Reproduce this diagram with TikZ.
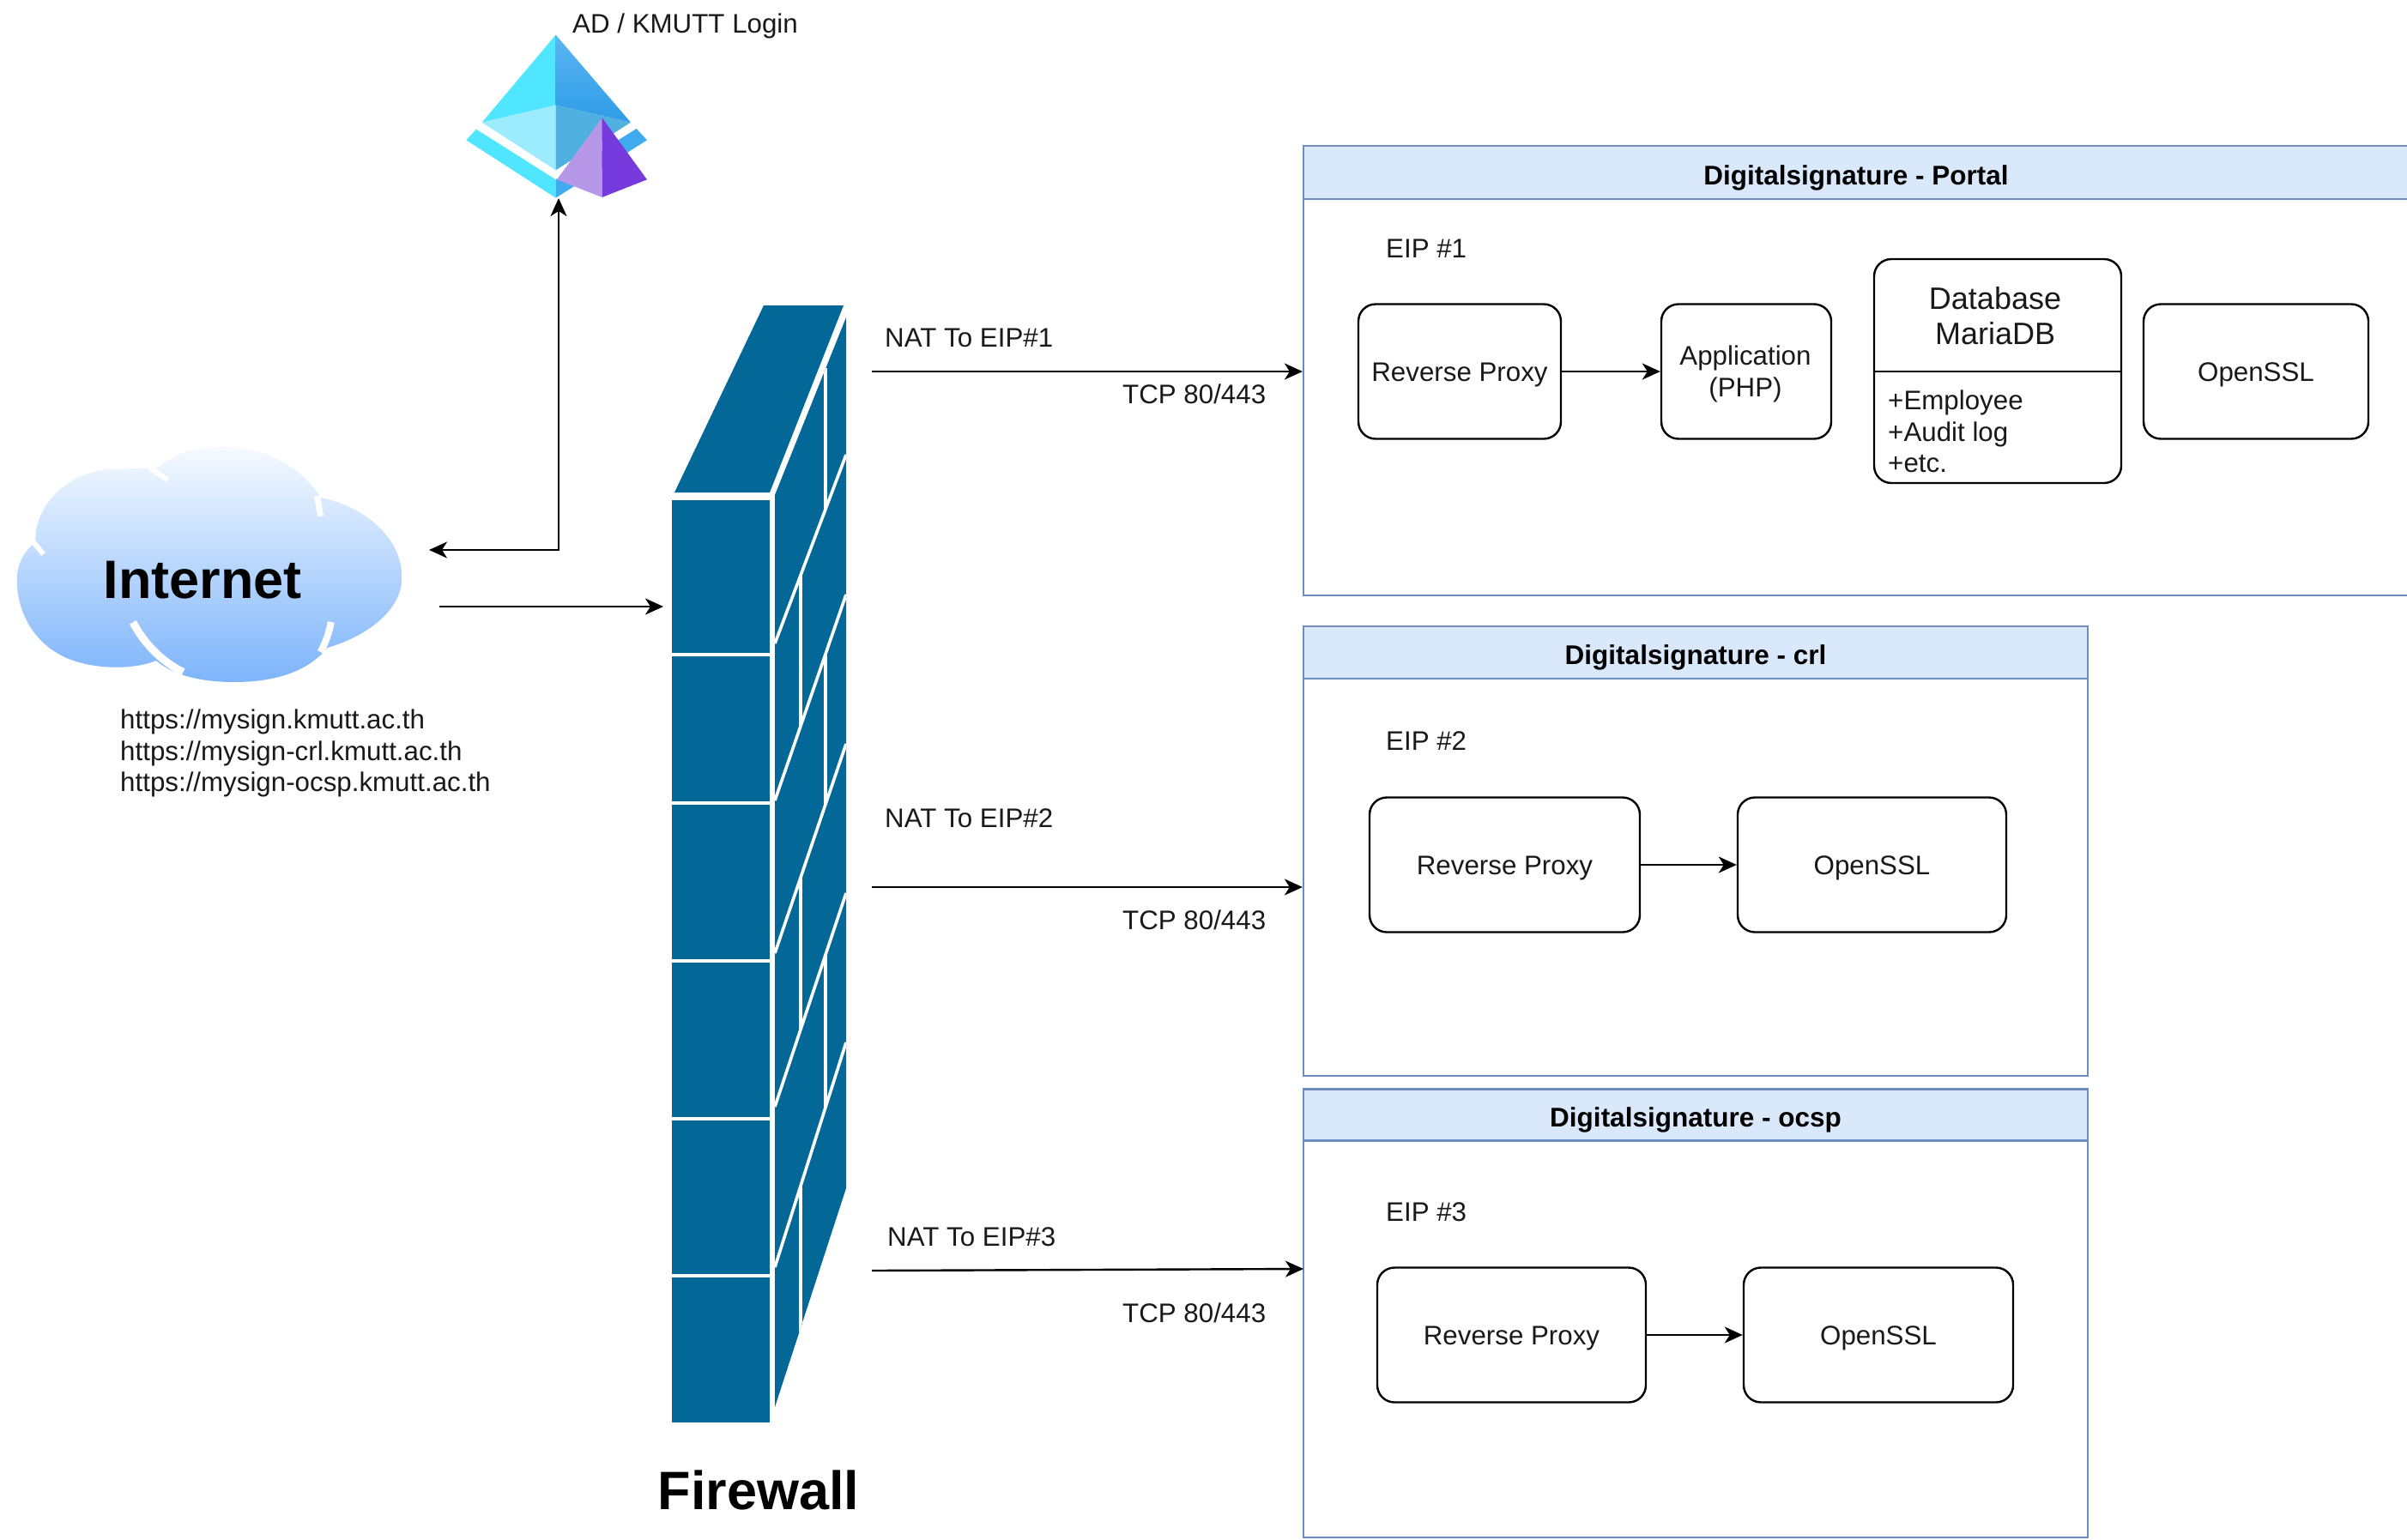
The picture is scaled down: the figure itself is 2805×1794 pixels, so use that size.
\documentclass[tikz,border=0pt]{standalone}
\usepackage{fontspec}
\setmainfont{Liberation Sans}
\usetikzlibrary{arrows.meta}
\definecolor{hdrfill}{HTML}{DAE8FC}
\definecolor{hdrline}{HTML}{6C8EBF}
\definecolor{fwblue}{HTML}{036897}
\definecolor{cloudtop}{HTML}{F7FBFF}
\definecolor{cloudbot}{HTML}{7DB4FB}
\tikzset{
  txt/.style={inner sep=0pt,font=\fontsize{31.3}{36.5}\selectfont,text=black!90},
  lbl/.style={txt,text height=23pt,text depth=7pt},
  boldhuge/.style={inner sep=0pt,font=\fontsize{63}{70}\selectfont\bfseries},
  titlebar/.style={draw=hdrline,fill=hdrfill,line width=2.2pt,inner sep=0pt,text height=35pt,text depth=7pt,font=\fontsize{31.5}{38}\selectfont\bfseries},
  panel/.style={draw=hdrline,fill=white,line width=2.2pt,inner sep=0pt},
  rbox/.style={draw=black,fill=white,line width=2.4pt,rounded corners=20pt,inner sep=0pt,font=\fontsize{31.3}{36.5}\selectfont,text=black!90,text height=29pt,text depth=7pt},
  conn/.style={draw=black,line width=2.4pt,-{Stealth[length=21pt,width=19pt,inset=6pt]}},
  dconn/.style={draw=black,line width=2.4pt,{Stealth[length=21pt,width=19pt,inset=6pt]}-{Stealth[length=21pt,width=19pt,inset=6pt]}},
  brickline/.style={draw=white,line width=4.5pt},
  sideline/.style={draw=white,line width=3.6pt},
  notch/.style={draw=white,line width=11pt}
}
\begin{document}
\begin{tikzpicture}[x=1pt,y=-1pt]
\useasboundingbox (0,0) rectangle (2805,1794);
\clip (0,0) rectangle (2805,1794);
\fill[white] (0,0) rectangle (2805,1794);

% login icon
\begin{scope}[shift={(500,0)},scale=0.3333]
  \fill[fill={rgb,255:red,80;green,230;blue,255}] (130,490) -- (165,452) -- (443,628) -- (443,692) -- cycle;
  \fill[fill={rgb,255:red,63;green,170;blue,238}] (443,628) -- (725,450) -- (762,490) -- (443,692) -- cycle;
  \fill[fill={rgb,255:red,80;green,230;blue,255}] (443,122) -- (185,428) -- (443,368) -- cycle;
  \shade[top color={rgb,255:red,92;green,182;blue,244},bottom color={rgb,255:red,45;green,156;blue,230}] (443,122) -- (705,428) -- (443,368) -- cycle;
  \fill[fill={rgb,255:red,156;green,235;blue,255}] (185,428) -- (443,595) -- (443,368) -- cycle;
  \fill[fill={rgb,255:red,80;green,176;blue,224}] (443,368) -- (705,428) -- (443,595) -- cycle;
  \fill[fill={rgb,255:red,183;green,152;blue,232}] (605,412) -- (447,628) -- (605,690) -- cycle;
  \fill[fill={rgb,255:red,119;green,58;blue,220}] (605,412) -- (762,628) -- (605,690) -- cycle;
\end{scope}
\node[lbl,anchor=west] (adlogin) at (667,30) {AD / KMUTT Login};

% cloud
\begin{scope}[shift={(0,500)},xscale=0.3953,yscale=0.3333]
  \shade[top color=cloudtop,bottom color=cloudbot]
    (465,135) .. controls (530,70) and (620,55) .. (700,65)
    .. controls (810,80) and (900,150) .. (945,240)
    .. controls (1060,265) and (1185,370) .. (1185,520)
    .. controls (1185,640) and (1070,730) .. (965,765)
    .. controls (900,860) and (790,885) .. (690,885)
    .. controls (590,885) and (510,860) .. (460,810)
    .. controls (400,840) and (300,840) .. (230,815)
    .. controls (110,775) and (50,650) .. (50,530)
    .. controls (50,470) and (70,430) .. (105,395)
    .. controls (100,260) and (210,140) .. (340,140)
    .. controls (390,140) and (430,135) .. (465,135) -- cycle;
  \draw[notch,line width=6pt] (440,135) -- (495,178);
  \draw[notch,line width=7pt] (935,235) -- (945,305);
  \draw[notch,line width=6pt] (98,395) -- (128,438);
  \draw[notch,line width=9pt] (392,676) .. controls (420,740) and (470,810) .. (540,850);
  \draw[notch,line width=8pt] (976,675) .. controls (970,715) and (960,745) .. (945,780);
\end{scope}
\node[boldhuge] (internet) at (236,676) {Internet};
\node[txt,anchor=north west,align=left] (urls) at (140,827) {https://mysign.kmutt.ac.th\\https://mysign-crl.kmutt.ac.th\\https://mysign-ocsp.kmutt.ac.th};

% firewall
\fill[fwblue] (783,583) rectangle (897,1658);
\foreach \yy in {763,936,1120,1304,1487} \draw[brickline] (780,\yy) -- (900,\yy);
\fill[fwblue] (786,574) -- (897,574) -- (983,356) -- (890,356) -- cycle;
\begin{scope}
  \clip (903,577) -- (986,370) -- (986,1385) -- (903,1640) -- cycle;
  \fill[fwblue] (903,350) rectangle (990,1650);
  \foreach \ya/\yb in {750/530,933/693,1111/867,1290/1041,1477/1215} \draw[sideline] (903,\ya) -- (986,\yb);
  \draw[sideline] (962,429) -- (962,594);
  \draw[sideline] (933,670) -- (933,846);
  \draw[sideline] (962,762) -- (962,938);
  \draw[sideline] (933,1023) -- (933,1200);
  \draw[sideline] (962,1113) -- (962,1291);
  \draw[sideline] (933,1382) -- (933,1640);
\end{scope}
\node[boldhuge] (firewall) at (884,1737) {Firewall};

% panels
\node[panel,minimum width=1288pt,minimum height=524pt] (portal) at (2163,432) {};
\node[titlebar,minimum width=1288pt,minimum height=62pt] (portalh) at (2163,201) {Digitalsignature - Portal};
\node[panel,minimum width=914pt,minimum height=524pt] (crl) at (1976,992) {};
\node[titlebar,minimum width=914pt,minimum height=61pt] (crlh) at (1976,760.5) {Digitalsignature - crl};
\node[panel,minimum width=914pt,minimum height=522pt] (ocsp) at (1976,1531) {};
\node[titlebar,minimum width=914pt,minimum height=60pt] (ocsph) at (1976,1299.5) {Digitalsignature - ocsp};

\node[lbl,anchor=west] (eip1) at (1615,292) {EIP \#1};
\node[lbl,anchor=west] (eip2) at (1615,866) {EIP \#2};
\node[lbl,anchor=west] (eip3) at (1615,1415) {EIP \#3};

% portal boxes
\node[rbox,minimum width=236pt,minimum height=157pt] (rp1) at (1701,433) {Reverse Proxy};
\node[rbox,minimum width=198pt,minimum height=157pt] (app) at (2035,433) {};
\node[txt,align=center] (apptext) at (2034,436) {Application\\(PHP)};
\node[rbox,minimum width=288pt,minimum height=261pt] (db) at (2328,432.5) {};
\node[txt,font=\fontsize{36}{41}\selectfont,align=center] (dbname) at (2325,368) {Database\\MariaDB};
\coordinate (dbdiv) at (2328,433);
\draw[draw=black,line width=2.4pt] (dbdiv -| db.west) -- (dbdiv -| db.east);
\node[txt,anchor=north west,align=left] (dbattrs) at (2200,455) {+Employee\\+Audit log\\+etc.};
\node[rbox,minimum width=262pt,minimum height=157pt] (ssl1) at (2629,433) {OpenSSL};
\draw[conn] (rp1) -- (app);

% crl boxes
\node[rbox,minimum width=315pt,minimum height=157pt] (rp2) at (1753.5,1008) {Reverse Proxy};
\node[rbox,minimum width=313pt,minimum height=157pt] (ssl2) at (2181.5,1008) {OpenSSL};
\draw[conn] (rp2) -- (ssl2);

% ocsp boxes
\node[rbox,minimum width=313pt,minimum height=157pt] (rp3) at (1761.5,1556) {Reverse Proxy};
\node[rbox,minimum width=314pt,minimum height=157pt] (ssl3) at (2189,1556) {OpenSSL};
\draw[conn] (rp3) -- (ssl3);

% connectors
\coordinate (iconfoot) at (651,231);
\coordinate (cloudback) at (500,641);
\coordinate (cloudout) at (512,707);
\coordinate (fwin) at (773,707);
\coordinate (nat1s) at (1016,433);
\coordinate (nat2s) at (1016,1034);
\coordinate (nat3s) at (1016,1481);
\coordinate (nat3e) at (1519,1479);
\draw[dconn] (cloudback) -| (iconfoot);
\draw[conn] (cloudout) -- (fwin);
\draw[conn] (nat1s) -- (nat1s -| portal.west);
\draw[conn] (nat2s) -- (nat2s -| crl.west);
\draw[conn] (nat3s) -- (nat3e);

\node[lbl,anchor=west] (nat1) at (1031,396) {NAT To EIP\#1};
\node[lbl,anchor=west] (tcp1) at (1308,462) {TCP 80/443};
\node[lbl,anchor=west] (nat2) at (1031,956) {NAT To EIP\#2};
\node[lbl,anchor=west] (tcp2) at (1308,1075) {TCP 80/443};
\node[lbl,anchor=west] (nat3) at (1034,1444) {NAT To EIP\#3};
\node[lbl,anchor=west] (tcp3) at (1308,1533) {TCP 80/443};
\end{tikzpicture}
\end{document}
